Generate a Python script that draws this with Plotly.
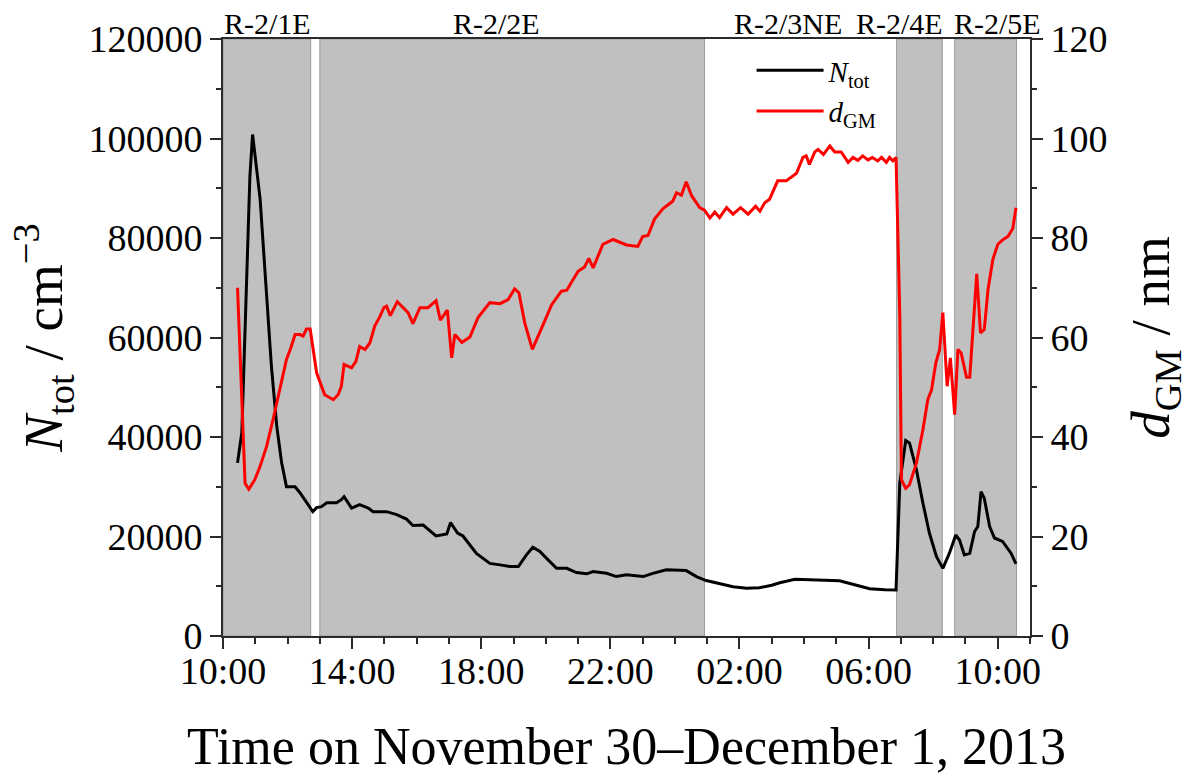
import plotly.graph_objects as go
from datetime import datetime, timedelta

# Clock times (hh:mm) starting on 30 Nov 2013; a wrap past midnight moves to 1 Dec.
n_clock = ["10:27", "10:35", "10:50", "10:55", "11:09", "11:20", "11:30", "11:40", "11:49", "11:58",
           "12:14", "12:23", "12:35", "12:47", "12:54", "13:03", "13:13", "13:31", "13:40", "13:45",
           "13:59", "14:14", "14:30", "14:39", "15:04", "15:23", "15:41", "15:53", "16:12", "16:36",
           "16:56", "17:03", "17:16", "17:26", "17:51", "18:16", "18:35", "18:53", "19:09", "19:24",
           "19:36", "19:49", "20:01", "20:20", "20:39", "20:57", "21:16", "21:28", "21:53", "22:11",
           "22:30", "23:01", "23:19", "23:44", "00:21", "00:40", "00:58", "01:23", "01:48", "02:13",
           "02:37", "03:00", "03:15", "03:43", "04:29", "05:06", "05:34", "06:02", "06:30", "06:51",
           "06:58", "07:09", "07:16", "07:29", "07:41", "07:53", "08:06", "08:18", "08:30", "08:42",
           "08:49", "08:58", "09:08", "09:17", "09:23", "09:29", "09:35", "09:45", "09:54", "10:09",
           "10:25", "10:34"]
n_tot = [34800, 40900, 92400, 100800, 87800, 71000, 54200, 42100, 34800, 30000,
         30000, 28800, 26800, 25000, 25800, 26000, 26800, 26800, 27400, 28000,
         25700, 26400, 25700, 25000, 25000, 24400, 23500, 22200, 22300, 20100,
         20500, 22800, 20700, 20100, 16600, 14600, 14300, 13950, 13950, 16300,
         17850, 17000, 15650, 13600, 13600, 12750, 12500, 12950, 12600, 11950,
         12300, 11950, 12600, 13300, 13150, 11950, 11150, 10600, 9900, 9600,
         9700, 10200, 10700, 11400, 11200, 11100, 10300, 9500, 9300, 9260,
         30800, 39300, 38800, 33400, 26700, 20700, 16000, 13600, 16600, 20300,
         19300, 16300, 16600, 21000, 22000, 29000, 27700, 22000, 19700, 19000,
         16600, 14500]

d_clock = ["10:27", "10:35", "10:41", "10:48", "10:59", "11:09", "11:21", "11:33", "11:46", "11:58",
           "12:06", "12:14", "12:23", "12:29", "12:35", "12:42", "12:54", "13:09", "13:25", "13:34",
           "13:40", "13:45", "13:59", "14:07", "14:14", "14:24", "14:33", "14:42", "14:52", "14:59",
           "15:04", "15:11", "15:24", "15:34", "15:44", "15:53", "16:06", "16:21", "16:36", "16:44",
           "16:57", "17:05", "17:11", "17:24", "17:39", "17:54", "18:16", "18:35", "18:50", "19:02",
           "19:10", "19:21", "19:35", "19:55", "20:11", "20:29", "20:39", "21:00", "21:12", "21:20",
           "21:28", "21:46", "22:05", "22:30", "22:51", "23:00", "23:10", "23:22", "23:38", "23:56",
           "00:03", "00:12", "00:21", "00:31", "00:46", "00:55", "01:05", "01:14", "01:23", "01:36",
           "01:48", "02:02", "02:16", "02:30", "02:38", "02:47", "02:56", "03:11", "03:27", "03:36",
           "03:46", "03:58", "04:04", "04:10", "04:20", "04:26", "04:36", "04:48", "04:57", "05:09",
           "05:22", "05:31", "05:40", "05:49", "05:59", "06:07", "06:17", "06:24", "06:33", "06:39",
           "06:45", "06:51", "06:54", "06:58", "07:01", "07:09", "07:16", "07:29", "07:41", "07:50",
           "07:57", "08:05", "08:12", "08:18", "08:26", "08:32", "08:40", "08:46", "08:52", "09:02",
           "09:08", "09:21", "09:28", "09:35", "09:42", "09:51", "10:00", "10:09", "10:19", "10:28",
           "10:34"]
d_gm = [70.0, 47.5, 30.7, 29.5, 31.4, 34.1, 38.1, 43.5, 49.5, 55.6,
        57.9, 60.6, 60.6, 60.3, 61.7, 61.7, 52.9, 48.5, 47.5, 48.5,
        50.2, 54.6, 53.9, 55.2, 58.2, 57.6, 58.9, 62.3, 64.3, 66.0,
        66.3, 64.4, 67.2, 66.0, 65.0, 62.8, 66.0, 66.0, 67.4, 63.5,
        65.5, 55.9, 60.6, 59.0, 60.1, 64.0, 67.0, 66.8, 67.6, 69.8,
        69.0, 62.9, 57.6, 62.6, 66.6, 69.3, 69.5, 73.3, 74.2, 75.9,
        74.0, 78.7, 79.7, 78.6, 78.3, 80.3, 80.5, 83.8, 85.9, 87.4,
        89.1, 88.6, 91.3, 88.5, 86.1, 85.6, 84.0, 85.2, 84.1, 86.1,
        84.8, 86.1, 84.8, 86.4, 85.4, 87.1, 87.8, 91.5, 91.5, 92.2,
        93.0, 96.2, 96.5, 94.8, 97.3, 97.8, 96.8, 98.5, 97.3, 97.3,
        95.2, 96.2, 95.6, 96.5, 95.7, 96.2, 95.5, 96.2, 95.2, 96.2,
        95.5, 96.2, 84.4, 64.3, 31.4, 29.7, 30.4, 34.8, 41.5, 47.5,
        49.5, 54.9, 57.6, 65.0, 50.2, 55.9, 44.5, 57.6, 56.9, 52.0,
        52.0, 72.8, 60.9, 61.6, 69.7, 75.7, 78.7, 79.6, 80.3, 81.9,
        86.1]

# Sampling periods shaded in grey, with their labels above the frame
band_names = ["R-2/1E", "R-2/2E", "R-2/4E", "R-2/5E"]
band_start = ["2013-11-30 10:00", "2013-11-30 13:00", "2013-12-01 06:52", "2013-12-01 08:40"]
band_end = ["2013-11-30 12:43", "2013-12-01 00:55", "2013-12-01 08:17", "2013-12-01 10:35"]
label_text = ["R-2/1E", "R-2/2E", "R-2/3NE", "R-2/4E", "R-2/5E"]
label_time = ["2013-11-30 11:22", "2013-11-30 18:29", "2013-12-01 03:30",
              "2013-12-01 06:57", "2013-12-01 09:59"]

x_start = "2013-11-30 10:00"
x_end = "2013-12-01 11:00"


def to_datetimes(clock, first_day="2013-11-30"):
    day = datetime.strptime(first_day, "%Y-%m-%d")
    out, prev = [], None
    for c in clock:
        h, m = map(int, c.split(":"))
        minutes = h * 60 + m
        if prev is not None and minutes < prev:
            day += timedelta(days=1)
        prev = minutes
        out.append(day + timedelta(minutes=minutes))
    return out


SERIF = "Liberation Serif"
AXIS_COL = "#2b2b2b"
TICK_SIZE = 38

fig = go.Figure()
fig.add_trace(go.Scatter(
    x=to_datetimes(n_clock), y=n_tot, mode="lines", name="<i>N</i><sub>tot</sub>",
    line=dict(color="black", width=3), yaxis="y"))
fig.add_trace(go.Scatter(
    x=to_datetimes(d_clock), y=d_gm, mode="lines", name="<i>d</i><sub>GM</sub>",
    line=dict(color="#ff0000", width=3), yaxis="y2"))

for s, e in zip(band_start, band_end):
    fig.add_shape(type="rect", xref="x", yref="y", x0=s, x1=e, y0=0, y1=120000,
                  fillcolor="#c0c0c0", line=dict(color="#9c9c9c", width=1), layer="below")

for t, txt in zip(label_time, label_text):
    fig.add_annotation(x=t, y=1.0, xref="x", yref="paper", text=txt, showarrow=False,
                       xanchor="center", yanchor="bottom", yshift=-3,
                       font=dict(family=SERIF, size=30, color="black"))

fig.update_layout(
    width=1189, height=776,
    margin=dict(l=223, r=159, t=39, b=140),
    paper_bgcolor="white", plot_bgcolor="white",
    font=dict(family=SERIF, color="black"),
    xaxis=dict(
        type="date", range=[x_start, x_end], tick0=x_start, dtick=4 * 3600000,
        tickformat="%H:%M", ticks="outside", ticklen=11, tickwidth=2, tickcolor=AXIS_COL,
        minor=dict(dtick=3600000, ticks="outside", ticklen=6, tickwidth=1.5, tickcolor=AXIS_COL),
        showline=True, linecolor=AXIS_COL, linewidth=2, mirror=True, showgrid=False,
        zeroline=False, tickfont=dict(size=TICK_SIZE, family=SERIF), ticklabelstandoff=-11,
        title=dict(text="Time on November 30\u2013December 1, 2013",
                   font=dict(size=52, family=SERIF), standoff=37),
    ),
    yaxis=dict(
        range=[0, 120000], dtick=20000, ticks="outside", ticklen=11, tickwidth=2,
        tickcolor=AXIS_COL, minor=dict(dtick=10000, ticks="outside", ticklen=5,
                                       tickwidth=1.5, tickcolor=AXIS_COL),
        showline=True, linecolor=AXIS_COL, linewidth=2, showgrid=False, zeroline=False,
        tickfont=dict(size=TICK_SIZE, family=SERIF), tickformat="d",
        title=dict(text="<i>N</i><sub>tot</sub> / cm<sup>\u22123</sup>",
                   font=dict(size=55, family=SERIF), standoff=8),
    ),
    yaxis2=dict(
        range=[0, 120], dtick=20, overlaying="y", side="right", ticks="outside",
        ticklen=11, tickwidth=2, tickcolor=AXIS_COL,
        minor=dict(dtick=10, ticks="outside", ticklen=5, tickwidth=1.5, tickcolor=AXIS_COL),
        showline=True, linecolor=AXIS_COL, linewidth=2, showgrid=False, zeroline=False,
        tickfont=dict(size=TICK_SIZE, family=SERIF),
        title=dict(text="<i>d</i><sub>GM</sub> / nm", font=dict(size=55, family=SERIF),
                   standoff=26),
    ),
    legend=dict(x=0.655, y=0.99, xanchor="left", yanchor="top",
                bgcolor="rgba(0,0,0,0)", font=dict(size=29, family=SERIF),
                itemwidth=67, tracegroupgap=0),
    showlegend=True,
)

fig.write_html("out.html")
